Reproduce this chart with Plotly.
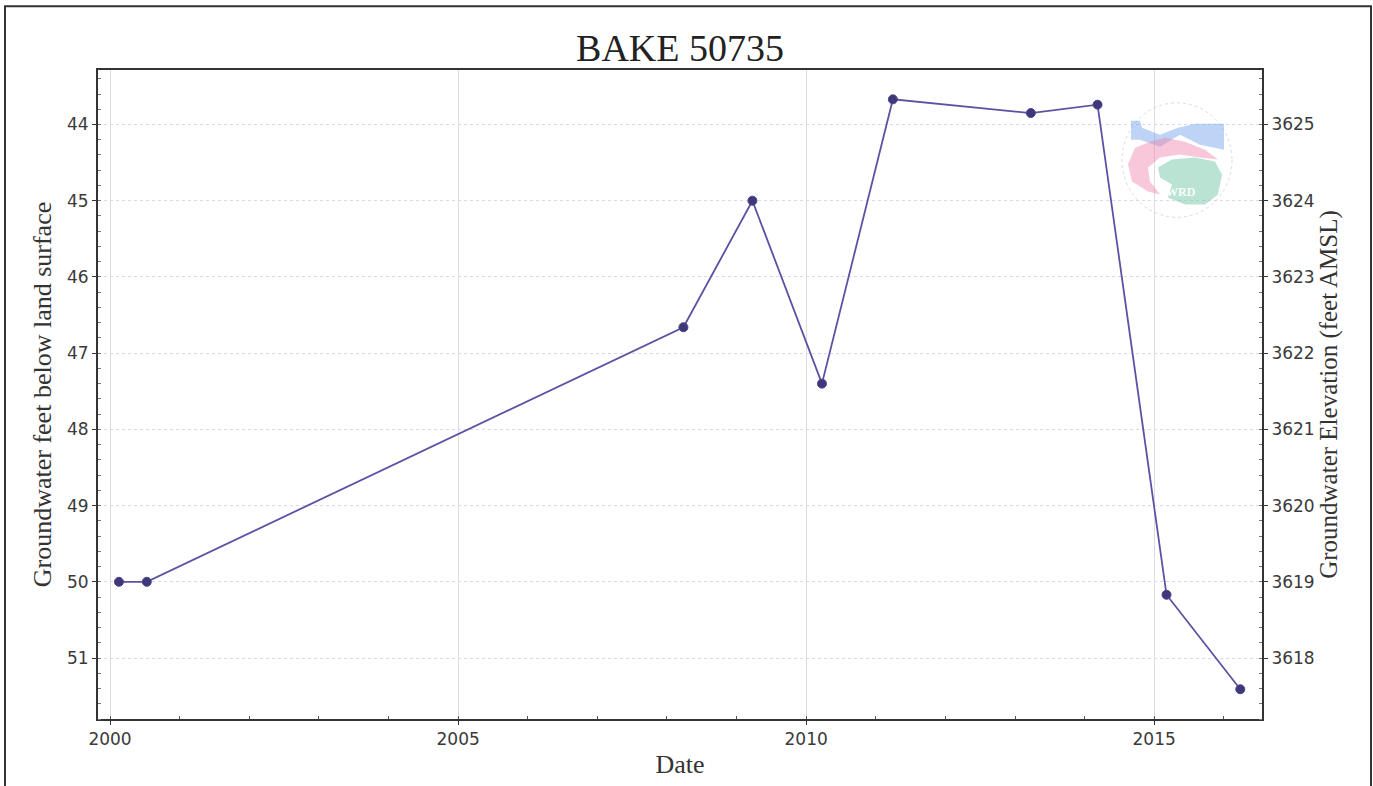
import plotly.graph_objects as go

# Data
dates = ["2000-02-17", "2000-07-12", "2008-03-28", "2009-03-25", "2010-03-25",
         "2011-04-01", "2013-03-25", "2014-03-10", "2015-03-07", "2016-03-28"]
depth_ft = [50.0, 50.0, 46.66, 45.0, 47.40, 43.67, 43.85, 43.74, 50.17, 51.41]
land_surface_elev = 3669.0
depth_range = [51.80, 43.285]
x_range = ["1999-10-30", "2016-07-20"]
depth_ticks = [44, 45, 46, 47, 48, 49, 50, 51]
elev_ticks = [3618, 3619, 3620, 3621, 3622, 3623, 3624, 3625]

elev_range = [land_surface_elev - depth_range[0], land_surface_elev - depth_range[1]]

W, H = 1373, 786
ML, MR, MT, MB = 98, 111, 70, 64
PW, PH = W - ML - MR, H - MT - MB


def px(X):
    return (X - ML) / PW


def py(Y):
    return 1 - (Y - MT) / PH


line_color = "#5b52a3"
marker_color = "#3e3878"
tick_font = dict(family="DejaVu Sans", size=17, color="#3a3a3a")
title_font = dict(family="Liberation Serif", size=26, color="#333333")

fig = go.Figure()
fig.add_trace(go.Scatter(
    x=dates, y=depth_ft, mode="lines+markers",
    line=dict(color=line_color, width=1.8),
    marker=dict(color=marker_color, size=9, line=dict(color="#4a4490", width=1)),
    showlegend=False, yaxis="y",
))
# invisible trace to activate the right axis
fig.add_trace(go.Scatter(
    x=[dates[0]], y=[land_surface_elev - depth_ft[0]], mode="markers",
    marker=dict(opacity=0), showlegend=False, yaxis="y2", hoverinfo="skip",
))


def path(points):
    s = "M " + " L ".join(f"{px(a):.5f},{py(b):.5f}" for a, b in points) + " Z"
    return s


# faint watermark logo (decorative)
logo_shapes = [
    dict(type="path", xref="paper", yref="paper",
         path=path([(1131, 121), (1140, 121), (1142, 128), (1160, 135), (1178, 128),
                    (1195, 124), (1224, 124), (1224, 150), (1200, 145), (1180, 135),
                    (1160, 147), (1140, 140), (1131, 140)]),
         fillcolor="rgba(110,160,235,0.45)", line=dict(width=0), layer="above"),
    dict(type="path", xref="paper", yref="paper",
         path=path([(1128, 165), (1135, 148), (1150, 142), (1165, 138), (1185, 142),
                    (1205, 150), (1218, 160), (1200, 158), (1180, 155), (1160, 158),
                    (1148, 168), (1150, 182), (1160, 195), (1148, 192), (1132, 182)]),
         fillcolor="rgba(240,130,170,0.45)", line=dict(width=0), layer="above"),
    dict(type="path", xref="paper", yref="paper",
         path=path([(1158, 168), (1172, 160), (1195, 158), (1215, 162), (1222, 175),
                    (1218, 195), (1205, 205), (1185, 205), (1168, 198), (1172, 185), (1160, 178)]),
         fillcolor="rgba(120,200,170,0.5)", line=dict(width=0), layer="above"),
    dict(type="circle", xref="paper", yref="paper",
         x0=px(1122), x1=px(1232), y0=py(218), y1=py(103),
         line=dict(color="rgba(150,150,190,0.35)", width=1, dash="dot"), layer="above"),
]

fig.update_layout(
    width=W, height=H,
    margin=dict(l=ML, r=MR, t=MT, b=MB),
    paper_bgcolor="white", plot_bgcolor="white",
    title=dict(text="BAKE 50735", x=0.4953, xanchor="center", y=0.939, yanchor="middle",
               font=dict(family="Liberation Serif", size=38, color="#222222")),
    xaxis=dict(
        type="date", range=x_range, tickformat="%Y", dtick="M60", tick0="2000-01-01",
        showgrid=True, gridcolor="#dcdce4", gridwidth=1,
        showline=True, linecolor="#333333", linewidth=2, mirror=True,
        ticks="outside", ticklen=4, tickcolor="#333333",
        minor=dict(dtick="M12", tick0="2000-01-01", ticks="inside", ticklen=3, tickcolor="#555555", showgrid=False),
        tickfont=tick_font,
        title=dict(text="Date", font=dict(family="Liberation Serif", size=26, color="#333333"), standoff=6),
        zeroline=False,
    ),
    yaxis=dict(
        range=depth_range, tickvals=depth_ticks,
        showgrid=True, gridcolor="#d8d8ee", gridwidth=1, griddash="dot",
        showline=True, linecolor="#333333", linewidth=2,
        ticks="outside", ticklen=4, tickcolor="#333333",
        minor=dict(dtick=0.2, ticks="inside", ticklen=3, tickcolor="#777777", showgrid=False),
        tickfont=tick_font,
        title=dict(text="Groundwater feet below land surface", font=title_font, standoff=8),
        zeroline=False,
    ),
    yaxis2=dict(
        range=elev_range, tickvals=elev_ticks, overlaying="y", side="right",
        showgrid=False,
        showline=True, linecolor="#333333", linewidth=2,
        ticks="outside", ticklen=4, tickcolor="#333333",
        minor=dict(dtick=0.2, ticks="inside", ticklen=3, tickcolor="#777777"),
        tickfont=tick_font,
        title=dict(text="Groundwater Elevation (feet AMSL)",
                   font=dict(family="Liberation Serif", size=25, color="#333333"), standoff=6),
        zeroline=False,
    ),
    shapes=[dict(type="rect", xref="paper", yref="paper",
                 x0=px(5), x1=px(1371), y0=-0.2, y1=py(6),
                 line=dict(color="#333333", width=2), layer="below")] + logo_shapes,
    annotations=[dict(text="<b>WRD</b>", xref="paper", yref="paper", x=px(1198), y=py(184),
                      showarrow=False, font=dict(family="Liberation Serif", size=12,
                                                 color="rgba(255,255,255,0.95)"))],
)

fig.write_html("out.html", config={"displayModeBar": False},
               post_script="document.body.style.margin='0';document.body.style.overflow='hidden';")
